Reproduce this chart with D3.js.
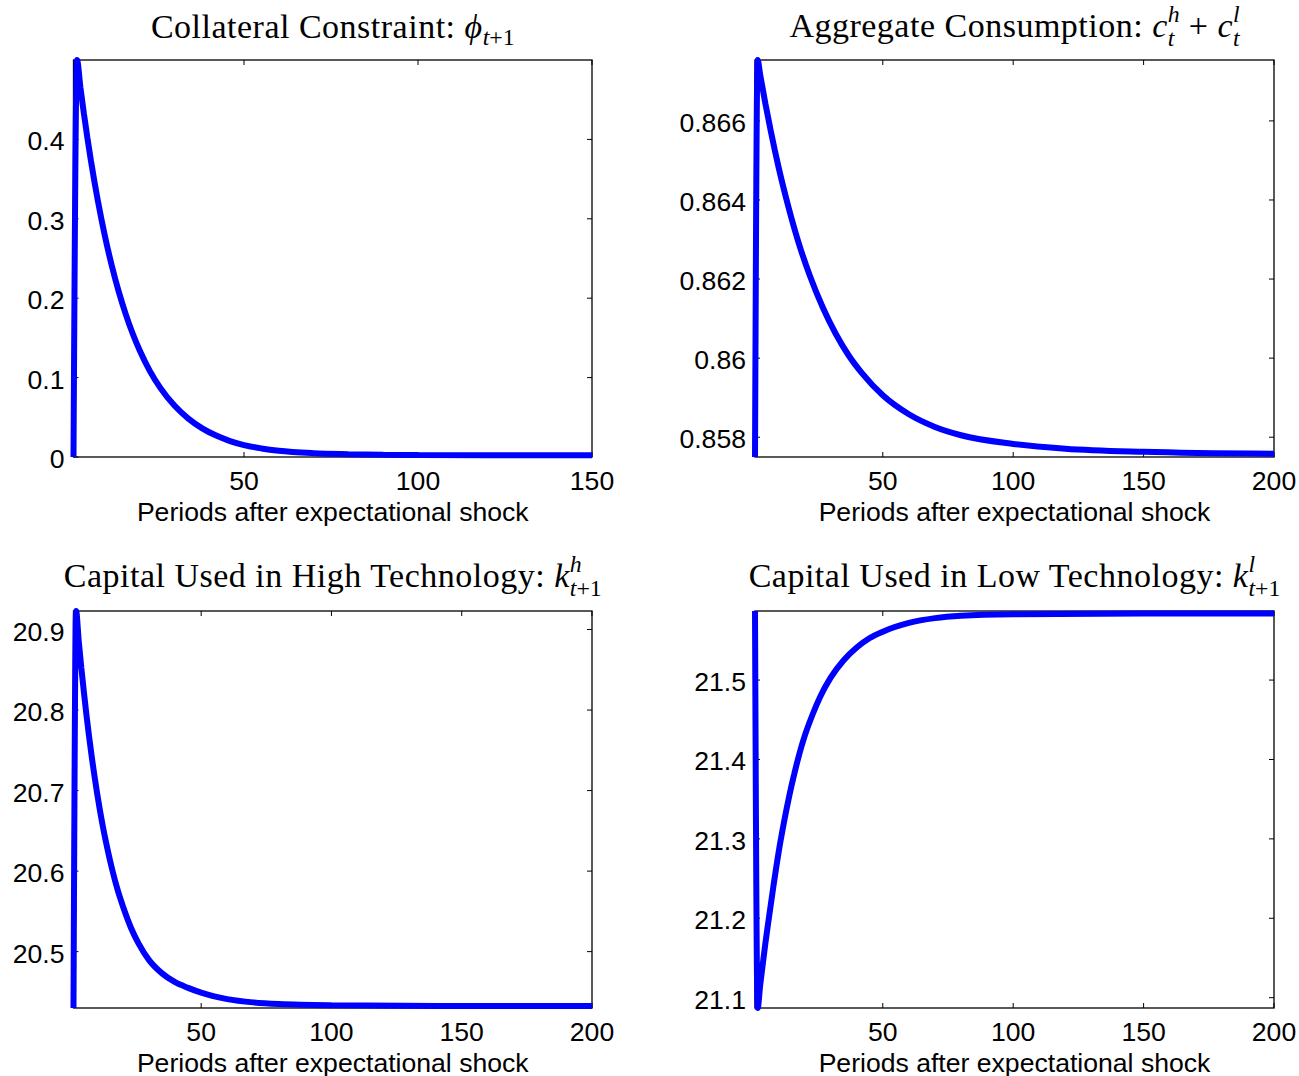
<!DOCTYPE html>
<html>
<head>
<meta charset="utf-8">
<script src="https://cdn.jsdelivr.net/npm/d3@7"></script>
<style>
  body { margin: 0; background: #fff; }
  svg { display: block; }
</style>
</head>
<body>
<svg id="fig" width="1299" height="1076"></svg>
<script>
// ---- data ----
var phiPeriods = [1, 2, 3, 4, 5, 6, 8, 10, 12, 14, 16, 18, 20, 23, 26, 30, 34, 38, 42, 46, 50, 55, 60, 70, 80, 90, 100, 120, 150];
var phiValues  = [0, 0.5, 0.4648, 0.4321, 0.4017, 0.3734, 0.3227, 0.2789, 0.2410, 0.2082, 0.1800, 0.1555, 0.1344, 0.1079, 0.0867,
                  0.0648, 0.0484, 0.0361, 0.0270, 0.0201, 0.0150, 0.0108, 0.0078, 0.0048, 0.0036, 0.0029, 0.0025, 0.0022, 0.0021];

var consPeriods = [1, 2, 3, 5, 7, 10, 14, 18, 22, 27, 32, 37, 42, 50, 60, 70, 80, 100, 120, 150, 200];
var consValues  = [0.85750, 0.86754, 0.86716, 0.86643, 0.86576, 0.86484, 0.86378, 0.86286, 0.86209, 0.86128, 0.86061,
                   0.86006, 0.85962, 0.85906, 0.85858, 0.85826, 0.85805, 0.85783, 0.85771, 0.85763, 0.85758];

var khPeriods = [1, 2, 3, 4, 5, 6, 8, 10, 12, 14, 16, 18, 20, 23, 26, 30, 35, 40, 45, 50, 60, 70, 80, 100, 150, 200];
var khValues  = [20.430, 20.923, 20.886, 20.8525, 20.822, 20.793, 20.742, 20.698, 20.660, 20.628, 20.600, 20.576, 20.556,
                 20.530, 20.510, 20.4895, 20.473, 20.462, 20.455, 20.449, 20.441, 20.437, 20.435, 20.4335, 20.4325, 20.4325];

var klPeriods = [1, 2, 3, 4, 5, 6, 8, 10, 12, 14, 16, 18, 20, 23, 26, 30, 35, 40, 45, 50, 60, 70, 80, 100, 150, 200];
var klValues  = [21.587, 21.087, 21.116, 21.143, 21.169, 21.193, 21.239, 21.282, 21.319, 21.352, 21.381, 21.407, 21.429,
                 21.456, 21.479, 21.503, 21.525, 21.541, 21.553, 21.561, 21.572, 21.578, 21.581, 21.583, 21.584, 21.584];

var xTicks150 = [50, 100, 150];
var xTicks200 = [50, 100, 150, 200];
var phiTicks  = [0, 0.1, 0.2, 0.3, 0.4];
var consTicks = [0.858, 0.86, 0.862, 0.864, 0.866];
var khTicks   = [20.5, 20.6, 20.7, 20.8, 20.9];
var klTicks   = [21.1, 21.2, 21.3, 21.4, 21.5];

var xLabel = "Periods after expectational shock";

// title pieces: pos 'sup' / 'sub', stack = sub placed under the preceding sup
var phiTitle  = [{s: "Collateral Constraint: "}, {s: "\u03D5", it: 1}, {s: "t", it: 1, pos: "sub"}, {s: "+1", pos: "sub"}];
var consTitle = [{s: "Aggregate Consumption: "}, {s: "c", it: 1}, {s: "h", it: 1, pos: "sup"}, {s: "t", it: 1, pos: "sub", stack: 1},
                 {s: " + "}, {s: "c", it: 1}, {s: "l", it: 1, pos: "sup"}, {s: "t", it: 1, pos: "sub", stack: 1}];
var khTitle   = [{s: "Capital Used in High Technology: "}, {s: "k", it: 1}, {s: "h", it: 1, pos: "sup"},
                 {s: "t", it: 1, pos: "sub", stack: 1}, {s: "+1", pos: "sub"}];
var klTitle   = [{s: "Capital Used in Low Technology: "}, {s: "k", it: 1}, {s: "l", it: 1, pos: "sup"},
                 {s: "t", it: 1, pos: "sub", stack: 1}, {s: "+1", pos: "sub"}];

var svg = d3.select("#fig");
var tickFont = "'Liberation Sans', Arial, Helvetica, sans-serif";
var titleFont = "'Liberation Serif', 'Times New Roman', serif";
var tickSize = 26.6, titleSize = 34, tickLen = 5;

function drawTitle(parts, cx, baseline) {
  var g = svg.append("g");
  var cur = 0, supStart = null, supEnd = null, stacked = false;
  parts.forEach(function(p) {
    var small = !!p.pos;
    var dy = 0;
    if (p.pos === "sup") { supStart = cur; dy = -0.42 * titleSize; }
    if (p.pos === "sub") {
      if (p.stack) { supEnd = cur; cur = supStart; stacked = true; }
      dy = (stacked ? 0.28 : 0.2) * titleSize;
    }
    if (!p.pos && supEnd !== null) { cur = Math.max(cur, supEnd); supEnd = null; stacked = false; }
    var t = g.append("text")
      .attr("x", cur).attr("y", baseline + dy)
      .attr("font-family", titleFont)
      .attr("font-size", small ? titleSize * 0.7 : titleSize)
      .attr("font-style", p.it ? "italic" : "normal")
      .attr("letter-spacing", small ? "0px" : "0.5px")
      .style("white-space", "pre")
      .text(p.s);
    cur += t.node().getComputedTextLength();
  });
  if (supEnd !== null) cur = Math.max(cur, supEnd);
  g.attr("transform", "translate(" + (cx - cur / 2) + ",0)");
}

function drawPanel(o) {
  var x = d3.scaleLinear().domain([o.periods[0], o.periods[o.periods.length - 1]]).range([o.left, o.right]);
  var y = d3.scaleLinear().domain(d3.extent(o.values)).range([o.bottom, o.top]);
  var pts = o.periods.map(function(p, i) { return [p, o.values[i]]; });

  var line = d3.line()
    .x(function(d) { return x(d[0]); })
    .y(function(d) { return y(d[1]); })
    .curve(d3.curveMonotoneX);

  // box
  svg.append("rect")
    .attr("x", o.left).attr("y", o.top)
    .attr("width", o.right - o.left).attr("height", o.bottom - o.top)
    .attr("fill", "none").attr("stroke", "#000").attr("stroke-width", 1.3);

  // inward ticks on all four sides
  var tg = svg.append("g").attr("stroke", "#000").attr("stroke-width", 1);
  o.xTicks.forEach(function(t) {
    var px = x(t);
    tg.append("line").attr("x1", px).attr("x2", px).attr("y1", o.bottom).attr("y2", o.bottom - tickLen);
    tg.append("line").attr("x1", px).attr("x2", px).attr("y1", o.top).attr("y2", o.top + tickLen);
  });
  o.yTicks.forEach(function(t) {
    var py = y(t);
    tg.append("line").attr("x1", o.left).attr("x2", o.left + tickLen).attr("y1", py).attr("y2", py);
    tg.append("line").attr("x1", o.right).attr("x2", o.right - tickLen).attr("y1", py).attr("y2", py);
  });

  svg.append("g").selectAll("text").data(o.xTicks).enter().append("text")
    .attr("x", function(d) { return x(d); })
    .attr("y", o.bottom + 33)
    .attr("text-anchor", "middle")
    .attr("font-family", tickFont).attr("font-size", tickSize)
    .text(function(d) { return d; });

  svg.append("g").selectAll("text").data(o.yTicks).enter().append("text")
    .attr("x", o.left - 9)
    .attr("y", function(d) { return y(d) + 11; })
    .attr("text-anchor", "end")
    .attr("font-family", tickFont).attr("font-size", tickSize)
    .text(function(d) { return d; });

  svg.append("text")
    .attr("x", (o.left + o.right) / 2).attr("y", o.bottom + 63.5)
    .attr("text-anchor", "middle")
    .attr("font-family", tickFont).attr("font-size", tickSize)
    .text(xLabel);

  svg.append("path")
    .datum(pts)
    .attr("d", line)
    .attr("fill", "none")
    .attr("stroke", "#0000ff")
    .attr("stroke-width", 6)
    .attr("stroke-linejoin", "bevel");

  drawTitle(o.title, (o.left + o.right) / 2, o.titleY);
}

drawPanel({periods: phiPeriods, values: phiValues, xTicks: xTicks150, yTicks: phiTicks, title: phiTitle,
           left: 73.5, right: 592, top: 60, bottom: 457, titleY: 38});
drawPanel({periods: consPeriods, values: consValues, xTicks: xTicks200, yTicks: consTicks, title: consTitle,
           left: 755, right: 1274, top: 60, bottom: 457, titleY: 36.5});
drawPanel({periods: khPeriods, values: khValues, xTicks: xTicks200, yTicks: khTicks, title: khTitle,
           left: 73.5, right: 592, top: 611, bottom: 1008, titleY: 586.5});
drawPanel({periods: klPeriods, values: klValues, xTicks: xTicks200, yTicks: klTicks, title: klTitle,
           left: 755, right: 1274, top: 611, bottom: 1008, titleY: 586.5});
</script>
</body>
</html>
